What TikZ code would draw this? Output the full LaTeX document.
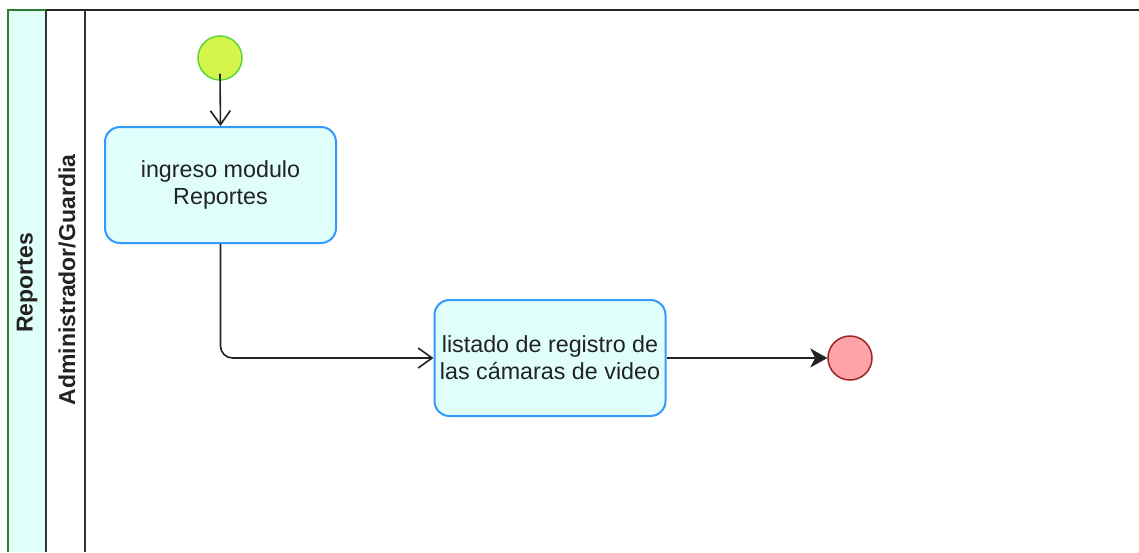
\documentclass[tikz,border=0pt]{standalone}
\usepackage{fontspec}
\setmainfont{Liberation Sans}
\usetikzlibrary{arrows.meta}
\definecolor{hdrfill}{HTML}{DFFFF8}
\definecolor{hdrgreen}{HTML}{2E7D32}
\definecolor{boxfill}{HTML}{E0FFFA}
\definecolor{boxblue}{HTML}{3399FF}
\definecolor{startfill}{HTML}{D4F54C}
\definecolor{startline}{HTML}{5CD63A}
\definecolor{endfill}{HTML}{FFA3AA}
\definecolor{endline}{HTML}{9E2424}
\definecolor{txt}{HTML}{222222}
\definecolor{conn}{HTML}{222222}
\tikzset{
  actbox/.style={draw=boxblue, line width=2pt, fill=boxfill, rounded corners=15pt,
    minimum width=231pt, minimum height=116pt, align=center, inner sep=2pt,
    text=txt, font=\fontsize{23.3}{27}\selectfont},
  startdot/.style={circle, draw=startline, line width=1.5pt, fill=startfill, minimum size=44pt, inner sep=0pt},
  enddot/.style={circle, draw=endline, line width=1.5pt, fill=endfill, minimum size=44pt, inner sep=0pt},
  openarrow/.style={draw=conn, line width=1.6pt, -{Straight Barb[length=14pt,width=20pt,line width=1.6pt]}},
  fillarrow/.style={draw=conn, line width=1.8pt, -{Stealth[length=17pt,width=19pt,inset=5pt,line width=0.5pt]}},
  lanetext/.style={rotate=90, font=\bfseries\fontsize{23}{27}\selectfont, text=txt, inner sep=0pt},
}
\begin{document}
\begin{tikzpicture}[x=1pt,y=-1pt]
\useasboundingbox (0,0) rectangle (1139,552);
\fill[white] (0,0) rectangle (1139,552);
% pool header
\fill[hdrfill] (8,10) rectangle (46,552);
\draw[hdrgreen, line width=2pt] (8,552) -- (8,10) -- (46,10);
\draw[black!85, line width=2pt] (46,10) -- (1139,10);
\draw[black!80, line width=2pt] (46,10) -- (46,552);
\draw[black!80, line width=2pt] (85,10) -- (85,552);
\node[lanetext] (pool) at (27,283) {Reportes};
\node[lanetext] (lane) at (67,280) {Administrador/Guardia};
% nodes
\node[startdot] (start) at (220,58) {};
\node[actbox] (a1) at (220.5,185) {ingreso modulo\\Reportes};
\node[actbox] (a2) at (550,358) {listado de registro de\\las cámaras de video};
\node[enddot] (end) at (850,358) {};
% connectors
\draw[openarrow] ([yshift=7pt]start.south) -- (a1.north);
\draw[openarrow, rounded corners=12pt] (a1.south) |- (a2.west);
\draw[fillarrow] (a2.east) -- (end.west);
\end{tikzpicture}
\end{document}
